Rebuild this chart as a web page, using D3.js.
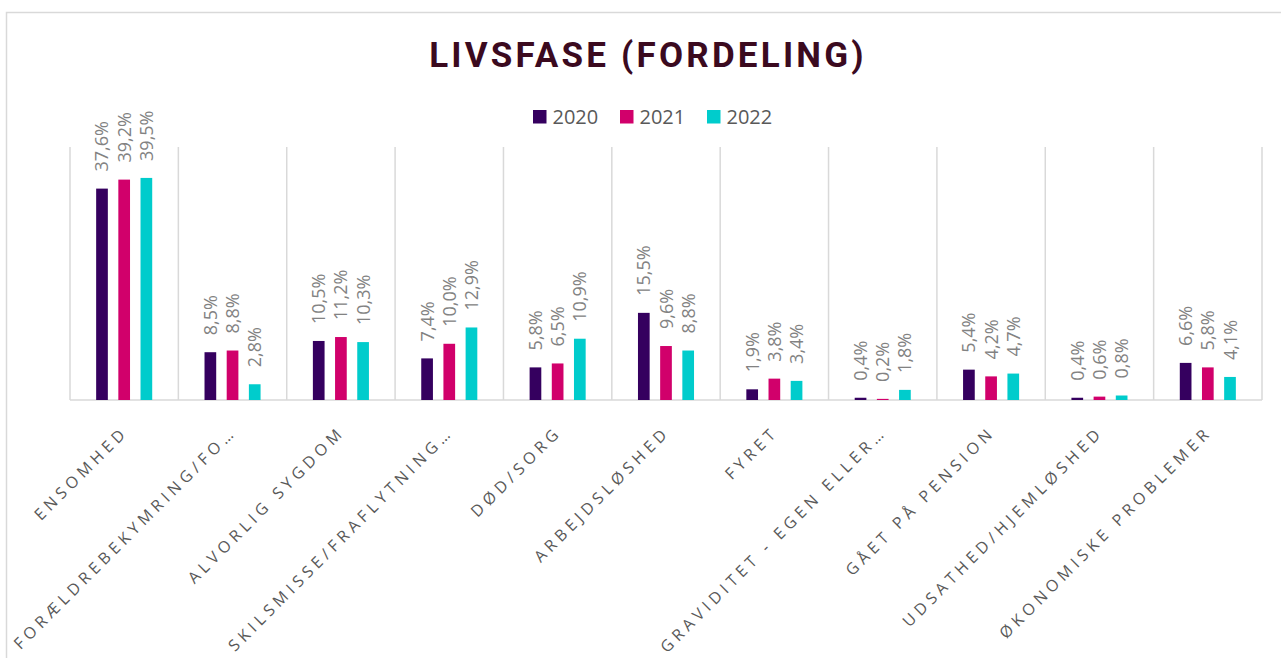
<!DOCTYPE html>
<html>
<head>
<meta charset="utf-8">
<script src="https://cdn.jsdelivr.net/npm/d3@7"></script>
<style>
  html, body { margin: 0; padding: 0; background: #fff; }
  svg { display: block; }
</style>
</head>
<body>
<svg id="chart" width="1281" height="658"></svg>
<script>
const categories = [
  "ENSOMHED",
  "FORÆLDREBEKYMRING/FO…",
  "ALVORLIG SYGDOM",
  "SKILSMISSE/FRAFLYTNING…",
  "DØD/SORG",
  "ARBEJDSLØSHED",
  "FYRET",
  "GRAVIDITET - EGEN ELLER…",
  "GÅET PÅ PENSION",
  "UDSATHED/HJEMLØSHED",
  "ØKONOMISKE PROBLEMER"
];
const years = ["2020", "2021", "2022"];
const values2020 = [37.6, 8.5, 10.5, 7.4, 5.8, 15.5, 1.9, 0.4, 5.4, 0.4, 6.6];
const values2021 = [39.2, 8.8, 11.2, 10.0, 6.5, 9.6, 3.8, 0.2, 4.2, 0.6, 5.8];
const values2022 = [39.5, 2.8, 10.3, 12.9, 10.9, 8.8, 3.4, 1.8, 4.7, 0.8, 4.1];
const colors = ["#35005f", "#d1006b", "#00cccc"];
const titleText = "LIVSFASE (FORDELING)";

const series = [values2020, values2021, values2022];
const rows = categories.map((c, i) => ({
  cat: c,
  vals: years.map((y, j) => ({ year: y, value: series[j][i], color: colors[j] }))
}));

const svg = d3.select("#chart");

// chart border (left + top visible)
svg.append("rect")
  .attr("x", 6.5).attr("y", 12.5)
  .attr("width", 1400).attr("height", 800)
  .attr("fill", "none").attr("stroke", "#d9d9d9").attr("stroke-width", 1.5);

const plot = { left: 70, right: 1262, top: 147, bottom: 400 };

const x0 = d3.scaleBand().domain(categories).range([plot.left, plot.right]).padding(0);
const groupW = x0.bandwidth() * 0.711;
const x1 = d3.scaleBand().domain(years).range([-groupW / 2, groupW / 2]).padding(0.473);
const y = d3.scaleLinear().domain([0, 45]).range([plot.bottom, plot.top]);

// vertical category gridlines
const gridX = categories.map(c => x0(c)).concat([plot.right]);
svg.append("g").selectAll("line").data(gridX).join("line")
  .attr("x1", d => d).attr("x2", d => d)
  .attr("y1", y(45)).attr("y2", y(0))
  .attr("stroke", "#d9d9d9").attr("stroke-width", 1.5);

// baseline axis
svg.append("line")
  .attr("x1", plot.left).attr("x2", plot.right)
  .attr("y1", y(0)).attr("y2", y(0))
  .attr("stroke", "#d9d9d9").attr("stroke-width", 1.5);

// bars
const groups = svg.append("g").selectAll("g").data(rows).join("g")
  .attr("transform", d => `translate(${x0(d.cat) + x0.bandwidth() / 2},0)`);

groups.selectAll("rect").data(d => d.vals).join("rect")
  .attr("x", d => x1(d.year))
  .attr("width", x1.bandwidth())
  .attr("y", d => y(d.value))
  .attr("height", d => y(0) - y(d.value))
  .attr("fill", d => d.color);

// data labels
const fmt = v => v.toFixed(1).replace(".", ",") + "%";
groups.selectAll("text").data(d => d.vals).join("text")
  .attr("transform", d => `translate(${x1(d.year) + x1.bandwidth() / 2 + 6.5},${y(d.value) - 17}) rotate(-90)`)
  .attr("font-family", "'Open Sans', sans-serif")
  .attr("font-size", 18)
  .attr("fill", "#828282")
  .text(d => fmt(d.value));

// category labels
svg.append("g").selectAll("text").data(categories).join("text")
  .attr("transform", d => `translate(${x0(d) + x0.bandwidth() / 2 + 5},433) rotate(-45)`)
  .attr("text-anchor", "end")
  .attr("font-family", "'Open Sans', sans-serif")
  .attr("font-size", 16)
  .attr("letter-spacing", 4.5)
  .attr("fill", "#595959")
  .text(d => d);

// title
svg.append("text")
  .attr("x", 648).attr("y", 67)
  .attr("text-anchor", "middle")
  .attr("font-family", "Roboto, sans-serif")
  .attr("font-weight", 700)
  .attr("font-size", 35)
  .attr("fill", "#3b0a1f")
  .attr("letter-spacing", 3.2)
  .text(titleText);

// legend
const legendX = [533, 620, 707];
const legend = svg.append("g").selectAll("g").data(years).join("g")
  .attr("transform", (d, i) => `translate(${legendX[i]},110)`);
legend.append("rect")
  .attr("width", 13.5).attr("height", 13.5)
  .attr("fill", (d, i) => colors[i]);
legend.append("text")
  .attr("x", 19.5).attr("y", 14)
  .attr("font-family", "'Open Sans', sans-serif")
  .attr("font-size", 20)
  .attr("fill", "#595959")
  .text(d => d);
</script>
</body>
</html>
